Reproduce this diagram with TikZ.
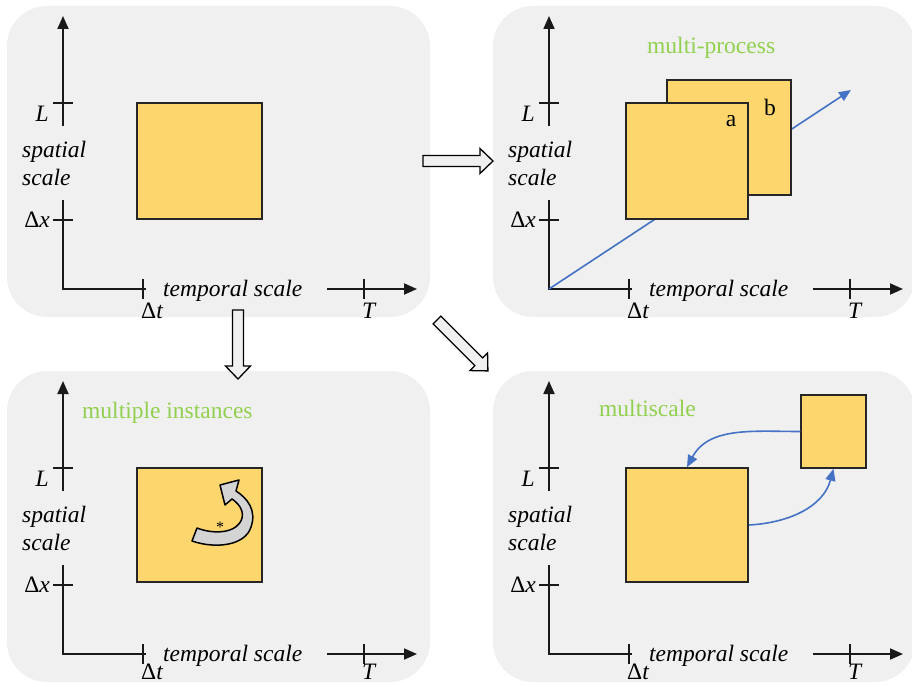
\documentclass[tikz,border=0pt]{standalone}
\usepackage{fontspec}
\setmainfont{Liberation Serif}
\usetikzlibrary{arrows.meta,calc}
\definecolor{panelgray}{HTML}{F0F0F0}
\definecolor{boxyellow}{HTML}{FDD66E}
\definecolor{labgreen}{HTML}{92D050}
\definecolor{arrblue}{HTML}{4472C4}
\definecolor{curlgray}{HTML}{D4D4D4}
\tikzset{
  panel/.style={draw=none, fill=panelgray, rounded corners=40pt, inner sep=0pt},
  axisline/.style={line width=1.8pt, black!90},
  axisarrow/.style={axisline, -{Triangle[length=13pt,width=11pt]}},
  lbl/.style={inner sep=0pt, font=\fontsize{23.5}{27}\selectfont},
  title/.style={lbl, text=labgreen, anchor=base west},
  yelbox/.style={draw=black!85, line width=1.5pt, fill=boxyellow, inner sep=0pt},
  bluearrow/.style={draw=arrblue, line width=1.6pt, -{Triangle[length=12pt,width=10pt]}},
  hollow/.style={draw=black, fill=panelgray, line width=1.3pt, line join=miter},
  pics/axes/.style={code={
    \draw[axisarrow] (63,126) -- (63,16);
    \draw[axisline] (63,200) -- (63,289) -- (146,289);
    \draw[axisarrow] (327,289) -- (417,289);
    \draw[axisline] (53,103) -- (73,103);
    \draw[axisline] (53,220) -- (73,220);
    \draw[axisline] (143,279) -- (143,299);
    \draw[axisline] (364,279) -- (364,299);
    \node[lbl, anchor=base east] (-L) at (49,121) {\textit{L}};
    \node[lbl, anchor=base west] (-sp) at (22,157) {\textit{spatial}};
    \node[lbl, anchor=base west] (-sc) at (22,185) {\textit{scale}};
    \node[lbl, anchor=base east] (-dx) at (50,227) {Δ\textit{x}};
    \node[lbl, anchor=base west] (-dt) at (141,#1) {Δ\textit{t}};
    \node[lbl, anchor=base west] (-T) at (362,#1) {\textit{T}};
    \node[lbl, anchor=base west] (-ts) at (163,296) {\textit{temporal scale}};
  }}
}
\begin{document}
\begin{tikzpicture}[x=1pt,y=-1pt]
\useasboundingbox (0,0) rectangle (912,685);
% panels
\node[panel, minimum width=423pt, minimum height=311pt] (p1) at (218.5,161.5) {};
\node[panel, minimum width=422pt, minimum height=311pt] (p2) at (704,161.5) {};
\node[panel, minimum width=423pt, minimum height=311pt] (p3) at (218.5,526.5) {};
\node[panel, minimum width=422pt, minimum height=311pt] (p4) at (704,526.5) {};
% axes
\pic (ax1) at (0,0) {axes=318};
\pic (ax2) at (486,0) {axes=318};
\pic (ax3) at (0,365) {axes=314};
\pic (ax4) at (486,365) {axes=314};
% panel 1
\node[yelbox, minimum width=125pt, minimum height=116pt] (s1) at (199.5,161) {};
% panel 2
\node[title] (t2) at (647,54) {multi-process};
\coordinate (o2) at (549,289);
\coordinate (e2) at (851,90);
\draw[bluearrow] (o2) -- (e2);
\node[yelbox, minimum width=124pt, minimum height=115pt] (b2) at (729,137.5) {};
\node[yelbox, minimum width=122pt, minimum height=116pt] (a2) at (687,161) {};
\node[lbl] (la) at (731,121) {a};
\node[lbl] (lb) at (770,107) {b};
% panel 3
\node[title] (t3) at (82,418) {multiple instances};
\node[yelbox, minimum width=125pt, minimum height=114pt] (s3) at (199.5,525) {};
\draw[hollow, fill=curlgray, line join=round, line width=1.5pt]
  (197,528) .. controls (215,535) and (238,533) .. (242,518)
  .. controls (244,510) and (238,503) .. (232,499)
  -- (225,505) -- (220,485) -- (239,480) -- (236,491)
  .. controls (247,498) and (257,510) .. (251,527)
  .. controls (245,546) and (215,549) .. (192,541) -- cycle;
\node[inner sep=0pt, font=\fontsize{16}{16}\selectfont] (star) at (220,527) {*};
% panel 4
\node[title] (t4) at (599,416) {multiscale};
\node[yelbox, minimum width=122pt, minimum height=114pt] (big) at (687,525) {};
\node[yelbox, minimum width=65pt, minimum height=73pt] (small) at (833.5,431.5) {};
\draw[bluearrow] (small.west) to[out=180, in=62] (big.north);
\draw[bluearrow] (big.east) to[out=3, in=-105] (small.south);
% hollow arrows between panels
\draw[hollow, shift={(423,161)}, rotate=0]
  (0,-5.5) -- (57,-5.5) -- (57,-12.5) -- (70,0) -- (57,12.5) -- (57,5.5) -- (0,5.5) -- cycle;
\draw[hollow, shift={(238,310)}, rotate=-90]
  (0,-5.5) -- (56,-5.5) -- (56,-12.5) -- (69,0) -- (56,12.5) -- (56,5.5) -- (0,5.5) -- cycle;
\draw[hollow, shift={(437,320)}, rotate=-45]
  (0,-5.5) -- (59,-5.5) -- (59,-12.5) -- (72,0) -- (59,12.5) -- (59,5.5) -- (0,5.5) -- cycle;
\end{tikzpicture}
\end{document}
